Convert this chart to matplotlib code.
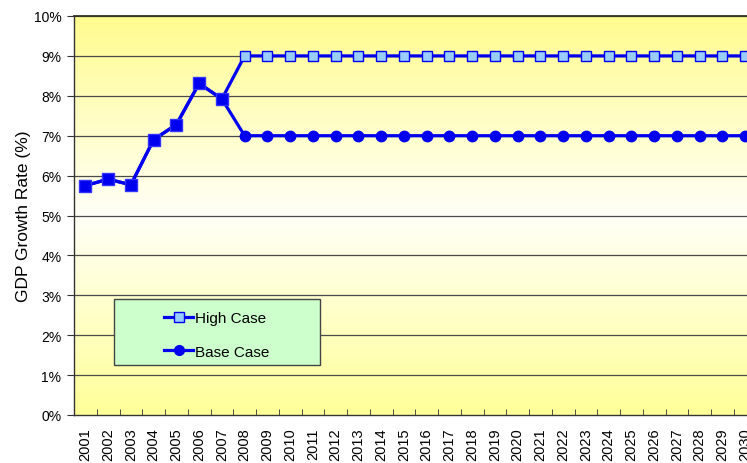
import numpy as np
import matplotlib
matplotlib.use("Agg")
import matplotlib.pyplot as plt
from matplotlib.colors import LinearSegmentedColormap
from matplotlib.lines import Line2D
from matplotlib.patches import Rectangle

plt.rcParams['font.family'] = ['Liberation Sans', 'DejaVu Sans']

years = [str(y) for y in range(2001, 2031)]
high_case = [5.75, 5.91, 5.77, 6.90, 7.28, 8.31, 7.92] + [9.0] * 23
base_case = [5.75, 5.91, 5.77, 6.90, 7.28, 8.31, 7.92] + [7.0] * 23
n_hist = 7  # recorded years shared by both scenarios
y_ticks = list(range(0, 11))

W, H = 747, 464
fig = plt.figure(figsize=(W / 100, H / 100), dpi=100)
fig.patch.set_facecolor('white')
ax_left, ax_top, ax_bottom, ax_w = 74, 17, 416, 682.5
ax = fig.add_axes([ax_left / W, (H - ax_bottom) / H, ax_w / W, (ax_bottom - ax_top) / H])


def to_axes(px, py):
    return (px - ax_left) / ax_w, (ax_bottom - py) / (ax_bottom - ax_top)


x = np.arange(len(years))
ax.set_xlim(-0.5, len(years) - 0.5)
ax.set_ylim(0, 10)

# yellow -> white -> yellow vertical gradient behind the plot
cmap = LinearSegmentedColormap.from_list(
    'bg', [(1.0, 0.99, 0.56), (1.0, 1.0, 0.97), (1.0, 1.0, 0.6)])
grad = np.linspace(0, 1, 256).reshape(-1, 1)
ax.imshow(grad, cmap=cmap, aspect='auto', extent=(-0.5, len(years) - 0.5, 0, 10),
          zorder=0, interpolation='bicubic')

for v in y_ticks[1:]:
    ax.axhline(v, color='#4a4a4a', lw=0.9, zorder=1)

blue = '#0000EE'
ax.plot(x, high_case, color=blue, lw=2.3, marker='s', ms=7.8,
        mfc='#99CCFF', mec=blue, mew=1.0, zorder=3)
ax.plot(x, base_case, color=blue, lw=2.3, marker='o', ms=7.5,
        mfc=blue, mec=blue, zorder=4)
ax.plot(x[:n_hist], high_case[:n_hist], ls='none', marker='s', ms=8.5,
        mfc=blue, mec='#3333FF', mew=1.0, zorder=5)

ax.set_yticks(y_ticks)
ax.set_yticklabels([f'{v}%' for v in y_ticks], fontsize=10)
ax.set_xticks(x)
ax.set_xticklabels(years, rotation=90, fontsize=10.5, va='top')
ax.tick_params(axis='x', which='major', length=0, pad=9)
ax.set_xticks(np.arange(-0.5, len(years)), minor=True)
ax.tick_params(axis='x', which='minor', direction='in', length=4, color='#333333')
ax.tick_params(axis='y', direction='out', length=5, color='#333333', pad=4)

for side in ['left', 'bottom']:
    ax.spines[side].set_color('#333333')
    ax.spines[side].set_linewidth(1.0)
ax.spines['top'].set_color('#333322')
ax.spines['top'].set_linewidth(1.3)
ax.spines['right'].set_visible(False)

ax.set_ylabel('GDP Growth Rate (%)', fontsize=12.5, labelpad=2)

# legend panel
bx0, by0 = to_axes(114, 366)
bx1, by1 = to_axes(320, 300)
ax.add_patch(Rectangle((bx0, by0), bx1 - bx0, by1 - by0, transform=ax.transAxes,
                       facecolor='#CCFFCC', edgecolor='#444444', lw=1.0, zorder=9))
handles = [
    Line2D([], [], color=blue, lw=2.3, marker='s', ms=7, mfc='#99CCFF', mec=blue),
    Line2D([], [], color=blue, lw=2.3, marker='o', ms=7, mfc=blue, mec=blue),
]
cx, cy = to_axes(217, 336)
leg = ax.legend(handles, ['High Case', 'Base Case'], loc='center',
                bbox_to_anchor=(cx, cy), fontsize=11, frameon=False,
                handlelength=1.9, handletextpad=0.15, labelspacing=1.25,
                borderpad=0, borderaxespad=0)
leg.set_zorder(10)

fig.savefig('out.png', dpi=100, facecolor='white')
